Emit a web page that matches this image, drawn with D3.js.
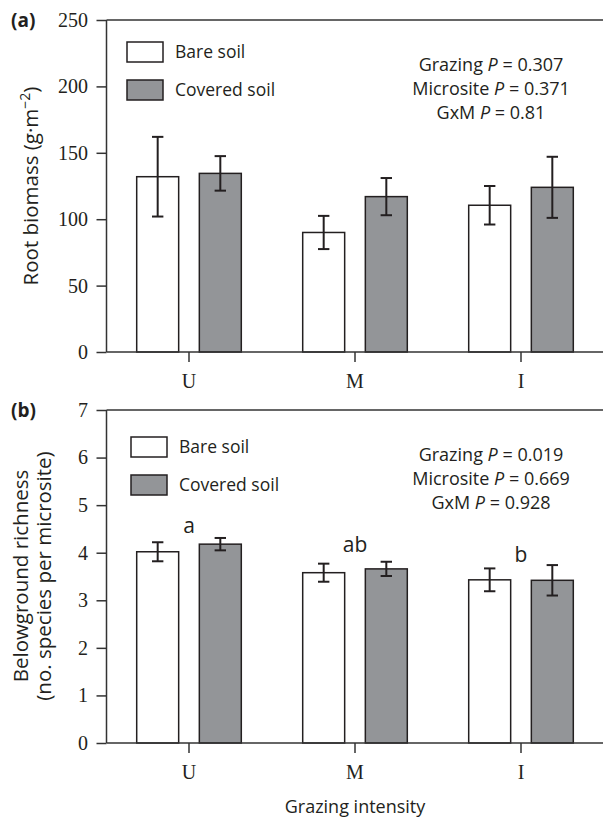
<!DOCTYPE html>
<html>
<head>
<meta charset="utf-8">
<script src="https://cdn.jsdelivr.net/npm/d3@7"></script>
<style>
    html, body { margin: 0; padding: 0; background: #fff; }
    svg { display: block; }
    .sans { font-family: 'Open Sans', sans-serif; fill: #231f20; }
    .serif { font-family: 'Liberation Serif', 'Times New Roman', serif; }
</style>
</head>
<body>
<svg id="chart" width="603" height="818"></svg>
<script>
/* Root biomass and belowground richness by grazing intensity */
const categories = ['U', 'M', 'I'];
const series = ['Bare soil', 'Covered soil'];

const biomassBare = [132, 90, 110.5];
const biomassBareSE = [30, 12.5, 14.5];
const biomassCovered = [134.5, 117, 124];
const biomassCoveredSE = [13, 14, 23];
const biomassTicks = [0, 50, 100, 150, 200, 250];
const biomassStats = [['Grazing', '0.307'], ['Microsite', '0.371'], ['GxM', '0.81']];

const richnessBare = [4.02, 3.58, 3.43];
const richnessBareSE = [0.2, 0.19, 0.24];
const richnessCovered = [4.18, 3.66, 3.42];
const richnessCoveredSE = [0.13, 0.15, 0.32];
const richnessTicks = [0, 1, 2, 3, 4, 5, 6, 7];
const richnessStats = [['Grazing', '0.019'], ['Microsite', '0.669'], ['GxM', '0.928']];
const richnessLetters = ['a', 'ab', 'b'];
const richnessLetterY = [4.41, 4.01, 3.8];

const fills = ['#ffffff', '#939598'];
const lineColor = '#333';
const width = 603;
const axisX = 106.5;

const svg = d3.select('#chart');

const x = d3.scaleBand().domain(categories).range([106, 604]);
const xInner = d3.scaleBand().domain(series).range([-52.3, 52.3]).paddingInner(0.33);

function drawPanel(cfg) {
    const y = d3.scaleLinear().domain(cfg.domain).range([cfg.bottom, cfg.top]);
    const g = svg.append('g');

    const rows = [];
    categories.forEach((cat, i) => {
        cfg.values.forEach((vals, s) => {
            rows.push({ cat, s, value: vals[i], se: cfg.errors[s][i] });
        });
    });

    // bars
    g.selectAll('rect.bar')
        .data(rows)
        .join('rect')
        .attr('class', 'bar')
        .attr('x', (d) => x(d.cat) + x.bandwidth() / 2 + xInner(series[d.s]))
        .attr('y', (d) => y(d.value))
        .attr('width', xInner.bandwidth())
        .attr('height', (d) => y(0) - y(d.value))
        .attr('fill', (d) => fills[d.s])
        .attr('stroke', '#231f20')
        .attr('stroke-width', 1.5);

    // error bars
    const cx = (d) => x(d.cat) + x.bandwidth() / 2 + xInner(series[d.s]) + xInner.bandwidth() / 2;
    const err = g.selectAll('g.err').data(rows).join('g').attr('class', 'err')
        .attr('stroke', '#231f20').attr('stroke-width', 2);
    err.append('line')
        .attr('x1', cx).attr('x2', cx)
        .attr('y1', (d) => y(d.value + d.se)).attr('y2', (d) => y(d.value - d.se));
    err.append('line')
        .attr('x1', (d) => cx(d) - 5.7).attr('x2', (d) => cx(d) + 5.7)
        .attr('y1', (d) => y(d.value + d.se)).attr('y2', (d) => y(d.value + d.se));
    err.append('line')
        .attr('x1', (d) => cx(d) - 5.7).attr('x2', (d) => cx(d) + 5.7)
        .attr('y1', (d) => y(d.value - d.se)).attr('y2', (d) => y(d.value - d.se));

    // axes
    const yAxis = g.append('g')
        .attr('transform', `translate(${axisX},0)`)
        .call(d3.axisLeft(y).tickValues(cfg.ticks).tickFormat(d3.format('d'))
            .tickSize(10).tickSizeOuter(0).tickPadding(8.5));
    const xAxis = g.append('g')
        .attr('transform', `translate(0,${cfg.bottom})`)
        .call(d3.axisBottom(x).tickSize(10).tickSizeOuter(0).tickPadding(12));
    [yAxis, xAxis].forEach((ax) => {
        ax.select('.domain').remove();
        ax.selectAll('line').attr('stroke', lineColor).attr('stroke-width', 1.5);
        ax.selectAll('text')
            .attr('class', 'serif')
            .attr('font-size', 20)
            .attr('fill', '#231f20');
    });
    g.append('line')
        .attr('x1', axisX).attr('x2', axisX)
        .attr('y1', cfg.top).attr('y2', cfg.bottom)
        .attr('stroke', lineColor).attr('stroke-width', 1.5);
    [cfg.top, cfg.bottom].forEach((yy) => {
        g.append('line')
            .attr('x1', axisX).attr('x2', width)
            .attr('y1', yy).attr('y2', yy)
            .attr('stroke', lineColor).attr('stroke-width', 1.5);
    });

    // legend
    const leg = g.append('g').attr('transform', `translate(${cfg.legend[0]},${cfg.legend[1]})`);
    series.forEach((name, s) => {
        leg.append('rect')
            .attr('x', 0).attr('y', s * 38)
            .attr('width', 36).attr('height', 20)
            .attr('fill', fills[s])
            .attr('stroke', '#231f20').attr('stroke-width', 1.5);
        leg.append('text')
            .attr('class', 'sans')
            .attr('x', 48).attr('y', s * 38 + 16)
            .attr('font-size', 17.5)
            .text(name);
    });

    // ANOVA results
    cfg.stats.forEach(([label, p], i) => {
        const t = g.append('text')
            .attr('class', 'sans')
            .attr('x', 491).attr('y', cfg.top + 51 + i * 24)
            .attr('text-anchor', 'middle')
            .attr('font-size', 18);
        t.append('tspan').text(label + ' ');
        t.append('tspan').attr('font-style', 'italic').text('P');
        t.append('tspan').text(' = ' + p);
    });

    if (cfg.letters) {
        g.selectAll('text.letter')
            .data(cfg.letters)
            .join('text')
            .attr('class', 'sans letter')
            .attr('x', (d, i) => x(categories[i]) + x.bandwidth() / 2)
            .attr('y', (d, i) => y(cfg.letterY[i]))
            .attr('text-anchor', 'middle')
            .attr('font-size', 21)
            .text((d) => d);
    }

    svg.append('text')
        .attr('class', 'sans')
        .attr('x', 11).attr('y', cfg.top + 7)
        .attr('font-size', 19)
        .attr('font-weight', 'bold')
        .text(cfg.tag);

    return y;
}

drawPanel({
    tag: '(a)',
    top: 20, bottom: 352,
    domain: [0, 250],
    ticks: biomassTicks,
    values: [biomassBare, biomassCovered],
    errors: [biomassBareSE, biomassCoveredSE],
    stats: biomassStats,
    legend: [127, 42],
});

drawPanel({
    tag: '(b)',
    top: 410, bottom: 743,
    domain: [0, 7],
    ticks: richnessTicks,
    values: [richnessBare, richnessCovered],
    errors: [richnessBareSE, richnessCoveredSE],
    stats: richnessStats,
    legend: [131, 437],
    letters: richnessLetters,
    letterY: richnessLetterY,
});

// axis titles
const t1 = svg.append('text')
    .attr('class', 'sans')
    .attr('transform', 'translate(38,186) rotate(-90)')
    .attr('text-anchor', 'middle')
    .attr('font-size', 20.5);
t1.append('tspan').text('Root biomass (g·m');
t1.append('tspan').attr('font-size', 14).attr('dy', -8).text('−2');
t1.append('tspan').attr('dy', 8).text(')');

const t2 = svg.append('text')
    .attr('class', 'sans')
    .attr('transform', 'translate(28,576) rotate(-90)')
    .attr('text-anchor', 'middle')
    .attr('font-size', 20.5);
t2.append('tspan').attr('x', 0).text('Belowground richness');
t2.append('tspan').attr('x', 0).attr('dy', 23).text('(no. species per microsite)');

svg.append('text')
    .attr('class', 'sans')
    .attr('x', 355).attr('y', 813)
    .attr('text-anchor', 'middle')
    .attr('font-size', 18)
    .text('Grazing intensity');
</script>
</body>
</html>
